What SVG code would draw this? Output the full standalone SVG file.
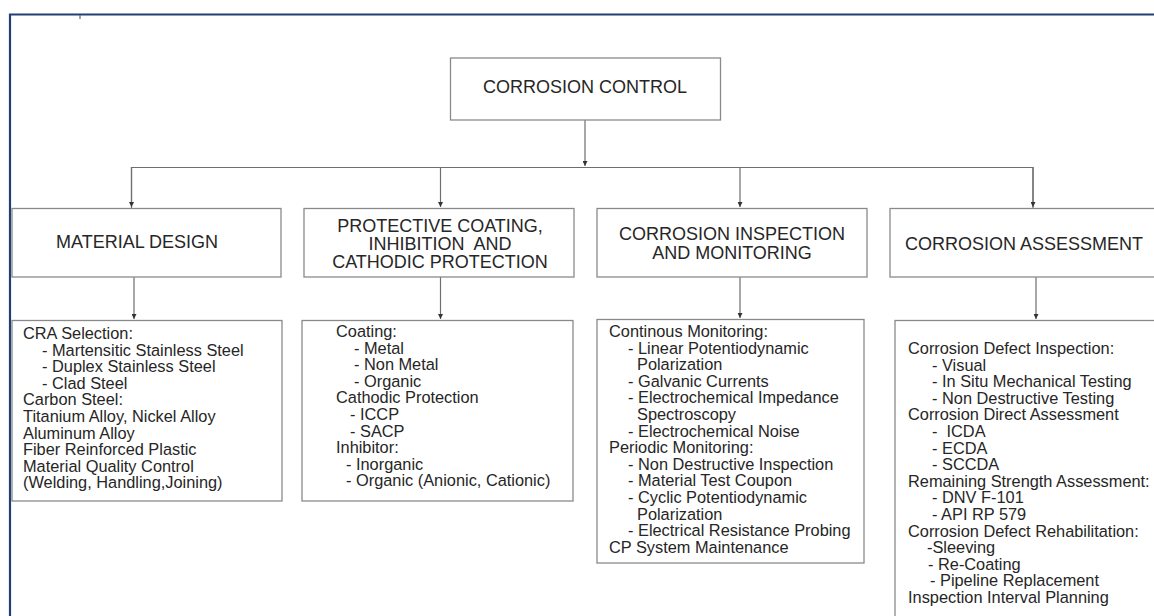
<svg xmlns="http://www.w3.org/2000/svg" width="1154" height="616" viewBox="0 0 1154 616">
<style>
.box{fill:#fff;stroke:#8a8a8a;stroke-width:1.3}
.hd{font-family:"Liberation Sans",Arial,sans-serif;font-size:18px;fill:#262626;white-space:pre}
.bd{font-family:"Liberation Sans",Arial,sans-serif;font-size:16.35px;fill:#262626;white-space:pre}
.ln{stroke:#6e6e6e;stroke-width:1.2;fill:none}
</style>
<defs>
<marker id="ah" viewBox="0 0 8 8" refX="8" refY="4" markerWidth="5" markerHeight="5" orient="auto" markerUnits="userSpaceOnUse">
<path d="M0,0 L8,4 L0,8 z" fill="#333"/>
</marker>
</defs>
<rect width="1154" height="616" fill="#fff"/>
<g id="frame">
<path d="M10,616 V14.5 H1154" fill="none" stroke="#223f74" stroke-width="2.2"/>
<path d="M80,15 V19" stroke="#666" stroke-width="1.2"/>
</g>
<g id="connectors">
<path class="ln" d="M585,120 V166" marker-end="url(#ah)"/>
<path class="ln" d="M131.5,208 V167.5 H1033 V208"/>
<path class="ln" d="M131.5,167 V207" marker-end="url(#ah)"/>
<path class="ln" d="M440.5,167 V207" marker-end="url(#ah)"/>
<path class="ln" d="M740,167 V207" marker-end="url(#ah)"/>
<path class="ln" d="M1033,167 V207" marker-end="url(#ah)"/>
<path class="ln" d="M134,277 V319" marker-end="url(#ah)"/>
<path class="ln" d="M440.5,277 V319" marker-end="url(#ah)"/>
<path class="ln" d="M740,277 V318" marker-end="url(#ah)"/>
<path class="ln" d="M1036,277 V319" marker-end="url(#ah)"/>
</g>
<g id="corrosion-control">
<rect class="box" x="450.5" y="58" width="270" height="62"/>
<text class="hd" x="585" y="93" text-anchor="middle">CORROSION CONTROL</text>
</g>
<g id="material-design">
<rect class="box" x="12" y="208.5" width="269" height="68.5"/>
<text class="hd" x="56" y="248">MATERIAL DESIGN</text>
</g>
<g id="protective-coating">
<rect class="box" x="304" y="208.5" width="270" height="68.5"/>
<text class="hd" x="440" y="232" text-anchor="middle">PROTECTIVE COATING,</text>
<text class="hd" x="440" y="250" text-anchor="middle">INHIBITION  AND</text>
<text class="hd" x="440" y="268" text-anchor="middle">CATHODIC PROTECTION</text>
</g>
<g id="inspection-monitoring">
<rect class="box" x="597" y="208.5" width="270" height="68.5"/>
<text class="hd" x="732" y="240" text-anchor="middle">CORROSION INSPECTION</text>
<text class="hd" x="732" y="259" text-anchor="middle">AND MONITORING</text>
</g>
<g id="corrosion-assessment">
<rect class="box" x="890" y="208.5" width="280" height="68.5"/>
<text class="hd" x="905" y="250">CORROSION ASSESSMENT</text>
</g>
<g id="material-design-details">
<rect class="box" x="12" y="320.5" width="270" height="180.5"/>
<text class="bd" x="23" y="339">CRA Selection:</text>
<text class="bd" x="42" y="355.6">- Martensitic Stainless Steel</text>
<text class="bd" x="42" y="372.2">- Duplex Stainless Steel</text>
<text class="bd" x="42" y="388.8">- Clad Steel</text>
<text class="bd" x="23" y="405.4">Carbon Steel:</text>
<text class="bd" x="23" y="422">Titanium Alloy, Nickel Alloy</text>
<text class="bd" x="23" y="438.6">Aluminum Alloy</text>
<text class="bd" x="23" y="455.2">Fiber Reinforced Plastic</text>
<text class="bd" x="23" y="471.8">Material Quality Control</text>
<text class="bd" x="23" y="488.4">(Welding, Handling,Joining)</text>
</g>
<g id="protective-coating-details">
<rect class="box" x="302" y="320.5" width="271" height="180.5"/>
<text class="bd" x="336" y="337">Coating:</text>
<text class="bd" x="354" y="353.6">- Metal</text>
<text class="bd" x="354" y="370.2">- Non Metal</text>
<text class="bd" x="354" y="386.8">- Organic</text>
<text class="bd" x="336" y="403.4">Cathodic Protection</text>
<text class="bd" x="350" y="420">- ICCP</text>
<text class="bd" x="350" y="436.6">- SACP</text>
<text class="bd" x="336" y="453.2">Inhibitor:</text>
<text class="bd" x="346" y="469.8">- Inorganic</text>
<text class="bd" x="346" y="486.4">- Organic (Anionic, Cationic)</text>
</g>
<g id="inspection-monitoring-details">
<rect class="box" x="597" y="319.5" width="267" height="243.5"/>
<text class="bd" x="609" y="337">Continous Monitoring:</text>
<text class="bd" x="628" y="353.6">- Linear Potentiodynamic</text>
<text class="bd" x="637" y="370.2">Polarization</text>
<text class="bd" x="628" y="386.8">- Galvanic Currents</text>
<text class="bd" x="628" y="403.4">- Electrochemical Impedance</text>
<text class="bd" x="637" y="420">Spectroscopy</text>
<text class="bd" x="628" y="436.6">- Electrochemical Noise</text>
<text class="bd" x="609" y="453.2">Periodic Monitoring:</text>
<text class="bd" x="628" y="469.8">- Non Destructive Inspection</text>
<text class="bd" x="628" y="486.4">- Material Test Coupon</text>
<text class="bd" x="628" y="503">- Cyclic Potentiodynamic</text>
<text class="bd" x="637" y="519.6">Polarization</text>
<text class="bd" x="628" y="536.2">- Electrical Resistance Probing</text>
<text class="bd" x="609" y="552.8">CP System Maintenance</text>
</g>
<g id="corrosion-assessment-details">
<rect class="box" x="895" y="320.5" width="280" height="310"/>
<text class="bd" x="908" y="354">Corrosion Defect Inspection:</text>
<text class="bd" x="932" y="370.6">- Visual</text>
<text class="bd" x="932" y="387.2">- In Situ Mechanical Testing</text>
<text class="bd" x="932" y="403.8">- Non Destructive Testing</text>
<text class="bd" x="908" y="420.4">Corrosion Direct Assessment</text>
<text class="bd" x="932" y="437">-  ICDA</text>
<text class="bd" x="932" y="453.6">- ECDA</text>
<text class="bd" x="932" y="470.2">- SCCDA</text>
<text class="bd" x="908" y="486.8">Remaining Strength Assessment:</text>
<text class="bd" x="932" y="503.4">- DNV F-101</text>
<text class="bd" x="932" y="520">- API RP 579</text>
<text class="bd" x="908" y="536.6">Corrosion Defect Rehabilitation:</text>
<text class="bd" x="927" y="553.2">-Sleeving</text>
<text class="bd" x="928" y="569.8">- Re-Coating</text>
<text class="bd" x="930" y="586.4">- Pipeline Replacement</text>
<text class="bd" x="908" y="603">Inspection Interval Planning</text>
</g>
</svg>
